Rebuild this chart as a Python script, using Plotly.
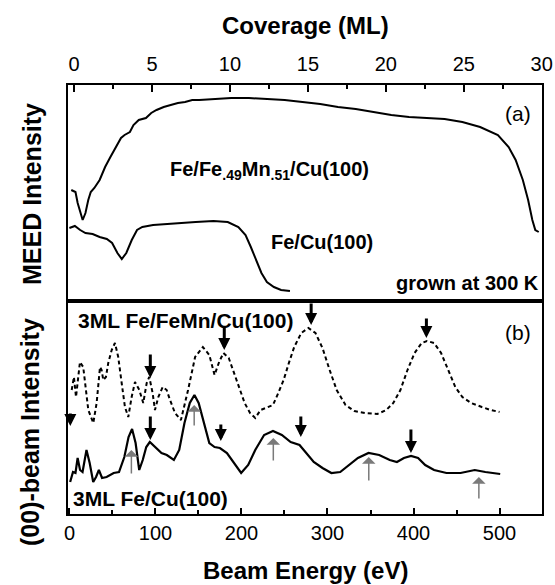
import plotly.graph_objects as go

# ---------- Panel (a): MEED intensity vs coverage ----------
cov_femn = [-0.18, 0.09, 0.23, 0.39, 0.55, 0.73, 0.91, 1.07, 1.30, 1.64, 1.99, 2.33, 2.67, 3.01,
            3.24, 3.58, 3.81, 4.15, 4.61, 4.95, 5.29, 5.75, 6.20, 6.66, 7.12, 7.58, 8.03, 8.94,
            10.08, 11.22, 12.37, 13.51, 14.65, 15.79, 16.93, 18.07, 19.21, 20.35, 21.49, 22.63,
            23.77, 24.91, 26.05, 27.19, 27.88, 28.33, 28.79, 29.13, 29.40, 29.59, 29.81]
meed_femn = [111, 109, 98, 88, 81, 88, 101, 109, 113, 121, 134, 144, 154, 163,
             166, 169, 176, 181, 183, 188, 191, 194, 196, 198, 199, 201, 201, 202,
             203, 203, 202, 201, 199, 197, 194, 192, 189, 186, 184, 183,
             182, 179, 174, 166, 154, 141, 121, 101, 81, 71, 69]

cov_fe = [-0.30, 0.05, 0.39, 0.73, 1.19, 1.64, 2.10, 2.44, 2.78, 3.06, 3.35, 3.70, 4.04, 4.38,
          5.07, 6.66, 7.80, 8.94, 9.86, 10.54, 11.00, 11.34, 11.68, 12.02, 12.37, 12.82, 13.28, 13.85]
meed_fe = [73, 75, 71, 68, 67, 64, 62, 58, 48, 42, 48, 61, 71, 74,
           76, 78, 79, 80, 79, 74, 66, 54, 41, 28, 19, 14, 11, 10]

# ---------- Panel (b): (00)-beam intensity vs beam energy ----------
en_femn = [2.6, 5.2, 7.6, 12.2, 16.0, 21.9, 27.7, 31.6, 35.5, 37.4, 39.3, 42.4, 45.1, 49.1,
           52.9, 56.7, 60.7, 64.5, 68.4, 72.3, 76.2, 81.2, 85.8, 89.8, 92.8, 96.7, 99.4,
           103.3, 108.4, 113.0, 116.9, 122.7, 129.6, 137.9, 146.1, 155.1, 162.6, 168.7,
           174.0, 179.0, 185.2, 191.4, 197.5, 203.7, 209.9, 216.0, 222.2, 228.4, 236.6,
           242.8, 249.0, 255.1, 261.3, 269.5, 277.8, 286.0, 294.2, 302.5, 310.7, 321.0,
           331.3, 343.6, 358.0, 368.3, 376.5, 384.8, 393.0, 401.2, 409.5, 415.6, 423.9,
           432.1, 440.3, 448.6, 456.8, 467.0, 479.4, 489.7, 500.0]
int_femn = [124, 137, 117, 152, 147, 104, 91, 111, 147, 144, 134, 137, 151, 164,
            171, 157, 131, 107, 97, 117, 132, 124, 111, 131, 137, 121, 104,
            117, 127, 124, 114, 101, 94, 124, 157, 167, 159, 139,
            152, 161, 156, 141, 124, 111, 101, 96, 104, 106, 109,
            121, 134, 151, 167, 181, 186, 181, 166, 144, 124, 109,
            103, 101, 100, 104, 111, 124, 144, 161, 171, 173, 171,
            161, 144, 127, 117, 111, 107, 104, 102]

en_fe = [0.8, 4.1, 7.0, 9.5, 12.3, 15.2, 19.8, 23.5, 27.6, 30.9, 34.2, 37.9, 43.2, 51.4,
         57.6, 63.8, 68.7, 72.8, 76.9, 81.1, 85.2, 89.3, 93.4, 100.8, 107.0, 113.2, 121.4,
         127.6, 133.7, 139.9, 145.3, 150.2, 156.4, 162.6, 168.7, 174.9, 183.1, 191.4,
         199.6, 207.8, 216.0, 226.3, 236.6, 246.9, 257.2, 267.5, 275.7, 284.0, 294.2,
         304.5, 314.8, 325.1, 335.4, 347.7, 360.1, 372.4, 380.7, 388.9, 397.1, 405.3,
         413.6, 423.9, 438.3, 454.7, 471.2, 483.5, 500.8]
int_fe = [32, 42, 41, 56, 44, 42, 64, 51, 32, 37, 44, 36, 37, 41,
          42, 57, 77, 85, 71, 44, 54, 67, 72, 66, 61, 59, 54,
          64, 91, 111, 119, 111, 91, 71, 67, 66, 61, 51,
          41, 49, 64, 79, 83, 79, 72, 69, 61, 52, 46,
          41, 42, 49, 56, 61, 59, 54, 52, 56, 58, 56,
          49, 44, 41, 41, 44, 42, 40]

# arrows: (energy, tail intensity, head intensity)
black_arrows = [(1, 102, 88), (94, 161, 136), (94, 99, 74), (180, 189, 164), (176, 91, 73),
                (281, 212, 189), (415, 197, 176), (397, 86, 61), (269, 99, 77)]
grey_arrows = [(72, 39, 64), (145, 87, 109), (237, 52, 76), (348, 32, 57), (476, 14, 37)]

cov_ticks = [0, 5, 10, 15, 20, 25, 30]
en_ticks = [0, 100, 200, 300, 400, 500]

FONT = "Liberation Sans, Arial, Helvetica, sans-serif"

fig = go.Figure()
fig.add_trace(go.Scatter(x=cov_femn, y=meed_femn, mode="lines", xaxis="x2", yaxis="y2",
                         line=dict(color="black", width=2), showlegend=False))
fig.add_trace(go.Scatter(x=cov_fe, y=meed_fe, mode="lines", xaxis="x2", yaxis="y2",
                         line=dict(color="black", width=2), showlegend=False))
fig.add_trace(go.Scatter(x=en_femn, y=int_femn, mode="lines", xaxis="x", yaxis="y",
                         line=dict(color="black", width=2, dash="4px,3px"), showlegend=False))
fig.add_trace(go.Scatter(x=en_fe, y=int_fe, mode="lines", xaxis="x", yaxis="y",
                         line=dict(color="black", width=2.2), showlegend=False))

split = 213 / 429.0
axis_common = dict(showline=True, linecolor="black", linewidth=2, mirror=True,
                   showgrid=False, zeroline=False, automargin=False)

fig.update_layout(
    autosize=False,
    width=555, height=585,
    margin=dict(l=68, r=13, t=85, b=71),
    paper_bgcolor="white", plot_bgcolor="white",
    font=dict(family=FONT, color="black", size=20),
    xaxis=dict(domain=[0, 1], anchor="y", range=[-1.7, 549.4], tickvals=en_ticks,
               ticks="inside", ticklen=6, tickwidth=1.5, tickcolor="black",
               minor=dict(dtick=50, tick0=0, ticks="inside", ticklen=4, tickwidth=1.5,
                          tickcolor="black"),
               tickfont=dict(size=20), **axis_common),
    yaxis=dict(domain=[0, split], anchor="x", range=[0, 213], showticklabels=False,
               ticks="", **axis_common),
    xaxis2=dict(domain=[0, 1], anchor="y2", side="top", range=[-0.39, 30.02],
                tickvals=cov_ticks, ticks="inside", ticklen=7, tickwidth=1.5,
                tickcolor="black", ticklabelstandoff=4,
                minor=dict(dtick=2.5, tick0=0, ticks="inside", ticklen=4, tickwidth=1.5,
                           tickcolor="black"),
                tickfont=dict(size=20), **axis_common),
    yaxis2=dict(domain=[split, 1], anchor="x2", range=[0, 216], showticklabels=False,
                ticks="", **axis_common),
)

plot_l, plot_r, plot_t, plot_b = 68, 542, 85, 514


def px_x(px):
    return (px - plot_l) / (plot_r - plot_l)


def px_y(py):
    return (plot_b - py) / (plot_b - plot_t)


ann = [
    dict(text="<b>Coverage (ML)</b>", x=px_x(305), y=px_y(25), xref="paper", yref="paper",
         xanchor="center", yanchor="middle", showarrow=False, font=dict(size=24)),
    dict(text="<b>Beam Energy (eV)</b>", x=px_x(305), y=px_y(570), xref="paper", yref="paper",
         xanchor="center", yanchor="middle", showarrow=False, font=dict(size=24)),
    dict(text="<b>MEED Intensity</b>", x=px_x(32), y=px_y(194), xref="paper", yref="paper",
         textangle=-90, xanchor="center", yanchor="middle", showarrow=False,
         font=dict(size=25)),
    dict(text="<b>(00)-beam Intensity</b>", x=px_x(30), y=px_y(432), xref="paper",
         yref="paper", textangle=-90, xanchor="center", yanchor="middle", showarrow=False,
         font=dict(size=25)),
    dict(text="<b>Fe/Fe<sub>.49</sub>Mn<sub>.51</sub>/Cu(100)</b>", x=12.56, y=131,
         xref="x2", yref="y2", xanchor="center", yanchor="middle", showarrow=False,
         font=dict(size=20)),
    dict(text="<b>Fe/Cu(100)</b>", x=15.9, y=59, xref="x2", yref="y2", xanchor="center",
         yanchor="middle", showarrow=False, font=dict(size=20)),
    dict(text="(a)", x=28.46, y=188, xref="x2", yref="y2", xanchor="center",
         yanchor="middle", showarrow=False, font=dict(size=21)),
    dict(text="<b>grown at 300 K</b>", x=29.95, y=18, xref="x2", yref="y2", xanchor="right",
         yanchor="middle", showarrow=False, font=dict(size=20)),
    dict(text="<b>3ML Fe/FeMn/Cu(100)</b>", x=8.1, y=194, xref="x", yref="y", xanchor="left",
         yanchor="middle", showarrow=False, font=dict(size=21)),
    dict(text="(b)", x=521.5, y=182, xref="x", yref="y", xanchor="center",
         yanchor="middle", showarrow=False, font=dict(size=21)),
    dict(text="<b>3ML Fe/Cu(100)</b>", x=1.7, y=16, xref="x", yref="y", xanchor="left",
         yanchor="middle", showarrow=False, font=dict(size=21)),
]

for e, tail, head in black_arrows:
    ann.append(dict(x=e, y=head, ax=e, ay=tail, xref="x", yref="y", axref="x", ayref="y",
                    text="", showarrow=True, arrowhead=2, arrowsize=0.8, arrowwidth=3,
                    arrowcolor="black"))
for e, tail, head in grey_arrows:
    ann.append(dict(x=e, y=head, ax=e, ay=tail, xref="x", yref="y", axref="x", ayref="y",
                    text="", showarrow=True, arrowhead=1, arrowsize=1.5, arrowwidth=1.5,
                    arrowcolor="#7a7a7a"))

fig.update_layout(annotations=ann)
fig.write_html("out.html", config={"responsive": False})
